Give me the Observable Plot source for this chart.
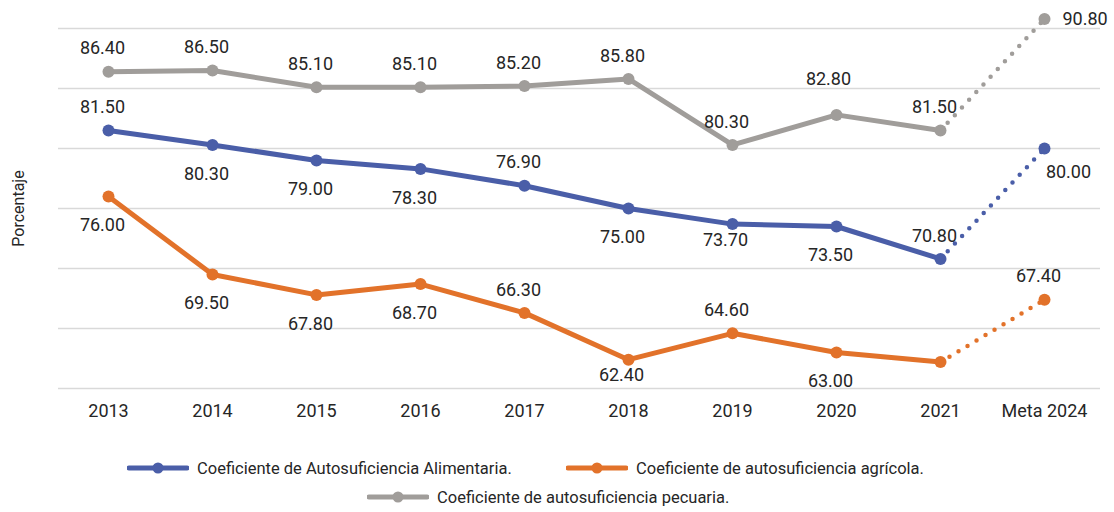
<!DOCTYPE html>
<html><head><meta charset="utf-8">
<script src="https://cdn.jsdelivr.net/npm/d3@7"></script>
<script src="https://cdn.jsdelivr.net/npm/@observablehq/plot@0.6"></script>
<style>
body{margin:0;background:#fff;font-family:Roboto,sans-serif;}
#wrap{position:relative;width:1114px;height:512px;overflow:hidden;}
.legend-item{position:absolute;display:flex;align-items:center;height:20px;font-size:16.5px;color:#262626;white-space:nowrap;}
.legend-item svg{margin-right:8px;}
</style></head><body><div id="wrap"><div id="chart"></div></div>
<script>
const categories = ["2013","2014","2015","2016","2017","2018","2019","2020","2021","Meta 2024"];
const alimentaria = [81.5, 80.3, 79.0, 78.3, 76.9, 75.0, 73.7, 73.5, 70.8, 80.0];
const agricola    = [76.0, 69.5, 67.8, 68.7, 66.3, 62.4, 64.6, 63.0, 62.2, 67.4];
const pecuaria    = [86.4, 86.5, 85.1, 85.1, 85.2, 85.8, 80.3, 82.8, 81.5, 90.8];
const seriesNames = ["Coeficiente de Autosuficiencia Alimentaria.", "Coeficiente de autosuficiencia agrícola.", "Coeficiente de autosuficiencia pecuaria."];
const gridTicks = [60, 65, 70, 75, 80, 85, 90];
const lastActualIndex = 8; // 2021: after it the line becomes a dotted projection

// label placement (layout only)
const placeAlimentaria = ["above","below","below","below","above","below","near","below","above","belowright"];
const placeAgricola    = ["below","below","below","below","above","near","above","below",null,"above"];
const placePecuaria    = ["above","above","above","above","above","above","above","high","above","right"];

const colors = ["#4A5EA8", "#E2722A", "#A09D9A"];
const places = [placeAlimentaria, placeAgricola, placePecuaria];
const rows = [];
[alimentaria, agricola, pecuaria].forEach((vals, s) =>
  vals.forEach((v, i) => rows.push({cat: categories[i], value: v, series: seriesNames[s], idx: i, place: places[s][i]})));
const solid = rows.filter(d => d.idx <= lastActualIndex);
const proj = rows.filter(d => d.idx >= lastActualIndex);

const offsets = {above: [-6, -23, "middle"], below: [-6, 29, "middle"], near: [-7, 16, "middle"],
  high: [-8, -36, "middle"], right: [18, 0, "start"], belowright: [24, 24, "middle"]};

const labelMarks = Object.entries(offsets).map(([k, [dx, dy, anchor]]) =>
  Plot.text(rows.filter(d => d.place === k), {x: "cat", y: "value", text: d => d.value.toFixed(2),
    dx, dy, textAnchor: anchor, fill: "#262626", fontSize: 18}));

const chart = Plot.plot({
  width: 1114, height: 440,
  marginLeft: 58, marginRight: 14, marginTop: 28, marginBottom: 52,
  x: {type: "point", domain: categories, range: [107, 1045], padding: 0},
  y: {domain: [60, 90], axis: null},
  color: {domain: seriesNames, range: colors},
  style: {fontFamily: "Roboto, sans-serif", fontSize: "18px", color: "#262626", background: "white"},
  marks: [
    Plot.ruleY(gridTicks, {y: d => d, stroke: "#d9d9d9", strokeWidth: 1.3}),
    Plot.axisX({tickSize: 0, tickPadding: 16, fontSize: 18, label: null, fill: "#262626"}),
    Plot.text(["Porcentaje"], {frameAnchor: "left", textAnchor: "middle", rotate: -90, dx: -40, fontSize: 16, fill: "#262626"}),
    Plot.line(proj, {x: "cat", y: "value", z: "series", stroke: "series", strokeWidth: 4.5,
      strokeDasharray: "0 10.5", strokeLinecap: "round"}),
    Plot.line(solid, {x: "cat", y: "value", z: "series", stroke: "series", strokeWidth: 5,
      strokeLinejoin: "round", strokeLinecap: "round"}),
    Plot.dot(rows, {x: "cat", y: "value", fill: "series", r: 6}),
    ...labelMarks
  ]
});
const wrap = document.getElementById("wrap");
document.getElementById("chart").appendChild(chart);

// legend (HTML, below the SVG)
const legendPos = [[127, 458], [566, 458], [367, 487]];
seriesNames.forEach((name, i) => {
  const item = document.createElement("div");
  item.className = "legend-item";
  item.style.left = legendPos[i][0] + "px";
  item.style.top = legendPos[i][1] + "px";
  item.innerHTML = `<svg width="62" height="14"><line x1="2" x2="60" y1="7" y2="7" stroke="${colors[i]}" stroke-width="5" stroke-linecap="round"/><circle cx="31" cy="7" r="5.5" fill="${colors[i]}"/></svg><span>${name}</span>`;
  wrap.appendChild(item);
});
</script></body></html>
